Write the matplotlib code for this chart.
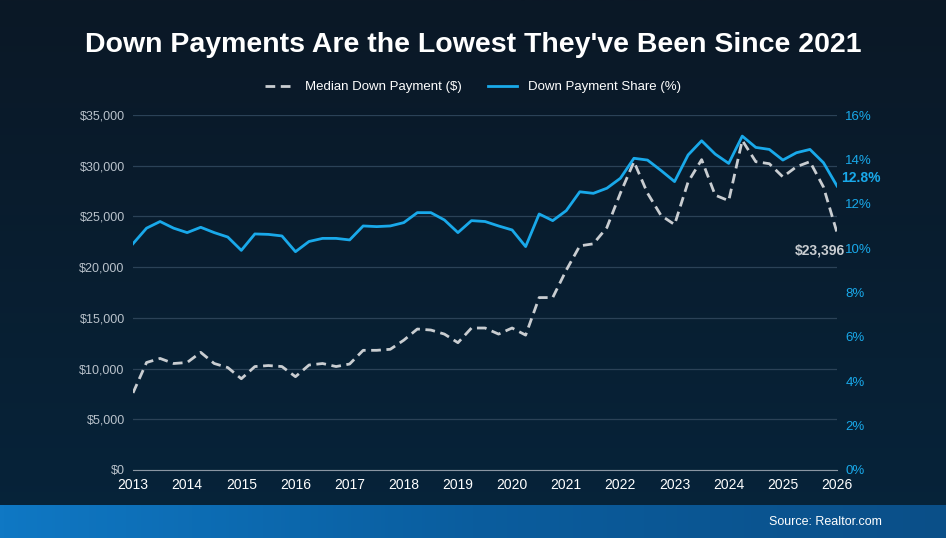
import matplotlib

matplotlib.use("Agg")
import matplotlib.pyplot as plt
import numpy as np
from matplotlib.colors import LinearSegmentedColormap
from matplotlib.ticker import FuncFormatter

plt.rcParams["font.family"] = ["Liberation Sans", "DejaVu Sans"]

# quarterly, 2013 Q1 .. 2026 Q1
quarters = 2013 + np.arange(53) * 0.25
down_payment = [
    7600, 10600, 11000, 10500, 10600, 11600, 10500, 10100, 9000, 10200, 10300, 10200,
    9200, 10350, 10500, 10200, 10450, 11800, 11800, 11900, 12800, 13900, 13800, 13400,
    12550, 14000, 14000, 13400, 14000, 13300, 17000, 17000, 19700, 22100, 22300, 23900,
    27300, 30400, 27300, 25100, 24200, 28400, 30600, 27100, 26550, 32500, 30400, 30200,
    28900, 29900, 30400, 27900, 23396,
]
share = [
    10.2, 10.9, 11.2, 10.9, 10.7, 10.94, 10.7, 10.5, 9.9, 10.64, 10.62, 10.55,
    9.84, 10.3, 10.44, 10.44, 10.37, 11.0, 10.97, 11.0, 11.15, 11.6, 11.6, 11.27,
    10.7, 11.24, 11.2, 11.0, 10.82, 10.07, 11.54, 11.24, 11.69, 12.54, 12.47, 12.7,
    13.15, 14.05, 13.97, 13.5, 13.0, 14.2, 14.84, 14.24, 13.82, 15.05, 14.54, 14.45,
    13.97, 14.3, 14.45, 13.85, 12.8,
]
years = list(range(2013, 2027))

BLUE = "#19a9ea"
GREY = "#c9cdd1"

fig = plt.figure(figsize=(9.46, 5.38), dpi=100)

# background gradient
bg = fig.add_axes([0, 0, 1, 1], zorder=-10)
bg.axis("off")
grad = np.linspace(0, 1, 256).reshape(-1, 1)
bg_cmap = LinearSegmentedColormap.from_list("bg", ["#0b1826", "#06243b"])
bg.imshow(grad, aspect="auto", cmap=bg_cmap, extent=[0, 1, 0, 1], transform=bg.transAxes)
band = np.linspace(0, 1, 256).reshape(1, -1)
band_cmap = LinearSegmentedColormap.from_list("band", ["#0f78c4", "#0a5d9e", "#0a4f88"])
bg.imshow(band, aspect="auto", cmap=band_cmap, extent=[0, 1, 0, 33 / 538])
bg.set_xlim(0, 1)
bg.set_ylim(0, 1)

fig.text(0.5, 0.917, "Down Payments Are the Lowest They've Been Since 2021",
         ha="center", va="center", color="white", fontsize=20.5, fontweight="bold")
fig.text(0.932, 0.03, "Source: Realtor.com", ha="right", va="center", color="white", fontsize=9)

ax = fig.add_axes([0.1406, 0.1264, 0.7442, 0.6598])
ax.set_facecolor("none")
ax2 = ax.twinx()

l1, = ax.plot(quarters, down_payment, color=GREY, lw=2, ls=(0, (3.5, 2)), label="Median Down Payment ($)")
l2, = ax2.plot(quarters, share, color=BLUE, lw=2, label="Down Payment Share (%)")

ax.set_xlim(2013, 2026)
ax.set_ylim(0, 35000)
ax2.set_ylim(0, 16)
ax.set_xticks(years)
ax.set_yticks(range(0, 35001, 5000))
ax2.set_yticks(range(0, 17, 2))
ax.yaxis.set_major_formatter(FuncFormatter(lambda v, p: f"${v:,.0f}"))
ax2.yaxis.set_major_formatter(FuncFormatter(lambda v, p: f"{v:.0f}%"))
ax.grid(axis="y", color="#2b4257", lw=0.9)
for a in (ax, ax2):
    for s in a.spines.values():
        s.set_visible(False)
    a.tick_params(length=0)
ax.spines["bottom"].set_visible(True)
ax.spines["bottom"].set_color("#8a96a3")
ax.tick_params(axis="x", colors="white", labelsize=10, pad=6)
ax.tick_params(axis="y", colors="#b9c2cb", labelsize=9, pad=6)
ax2.tick_params(axis="y", colors=BLUE, labelsize=9.5, pad=6)

ax2.annotate(f"{share[-1]:.1f}%", (quarters[-1], share[-1]), xytext=(3, 6), textcoords="offset points",
             color=BLUE, fontsize=10, fontweight="bold", ha="left", va="center")
ax.annotate(f"${down_payment[-1]:,}", (quarters[-1], down_payment[-1]), xytext=(6, -13),
            textcoords="offset points", color=GREY, fontsize=10, fontweight="bold", ha="right", va="center")

fig.legend(handles=[l1, l2], loc="center", bbox_to_anchor=(0.5, 0.838), ncol=2, frameon=False,
           labelcolor="white", fontsize=9.5, handlelength=2.2, columnspacing=2)

fig.savefig("out.png", dpi=100)
